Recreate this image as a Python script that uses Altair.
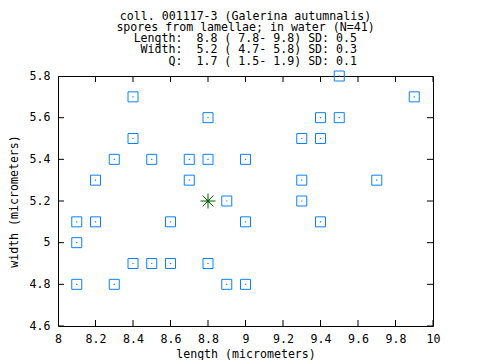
import altair as alt
import pandas as pd

# spore measurements (micrometers)
lengths = [9.5,
           8.4, 9.9,
           8.8, 9.4, 9.5,
           8.4, 9.3, 9.4,
           8.3, 8.5, 8.7, 8.8, 9.0,
           8.2, 8.7, 9.3, 9.7,
           8.9, 9.3,
           8.1, 8.2, 8.6, 9.0, 9.4,
           8.1,
           8.4, 8.5, 8.6, 8.8,
           8.1, 8.3, 8.9, 9.0]
widths = [5.8,
          5.7, 5.7,
          5.6, 5.6, 5.6,
          5.5, 5.5, 5.5,
          5.4, 5.4, 5.4, 5.4, 5.4,
          5.3, 5.3, 5.3, 5.3,
          5.2, 5.2,
          5.1, 5.1, 5.1, 5.1, 5.1,
          5.0,
          4.9, 4.9, 4.9, 4.9,
          4.8, 4.8, 4.8, 4.8]
mean_length = [8.8]
mean_width = [5.2]

x_ticks = [8, 8.2, 8.4, 8.6, 8.8, 9, 9.2, 9.4, 9.6, 9.8, 10]
y_ticks = [4.6, 4.8, 5, 5.2, 5.4, 5.6, 5.8]

title_lines = [
    "coll. 001117-3 (Galerina autumnalis)",
    "spores from lamellae; in water (N=41)",
]
stats_lines = [
    "Length:  8.8 ( 7.8- 9.8) SD: 0.5",
    "Width:  5.2 ( 4.7- 5.8) SD: 0.3",
    "Q:  1.7 ( 1.5- 1.9) SD: 0.1",
]
stats_lines = [t.replace(" ", "\u00a0") for t in stats_lines]

FONT = "DejaVu Sans Mono"
BLUE = "#0a80ff"
GREEN = "#006400"

pts = pd.DataFrame({"length": lengths, "width": widths})
mean = pd.DataFrame({"length": mean_length, "width": mean_width})

# tick rows for the mirrored inward ticks on all four sides
xt = pd.DataFrame({"length": x_ticks * 2,
                   "width": [4.6] * len(x_ticks) + [5.8] * len(x_ticks)})
yt = pd.DataFrame({"width": y_ticks * 2,
                   "length": [8] * len(y_ticks) + [10] * len(y_ticks)})

xscale = alt.Scale(domain=[8, 10], nice=False, zero=False)
yscale = alt.Scale(domain=[4.6, 5.8], nice=False, zero=False)

xaxis = alt.Axis(values=x_ticks, format="~g", ticks=False, grid=False, domain=False,
                 labelPadding=7, title="length (micrometers)", titlePadding=4,
                 labelFont=FONT, labelFontSize=11.6, labelColor="black",
                 titleFont=FONT, titleFontSize=11.6, titleColor="black",
                 titleFontWeight="normal", labelFlush=False)
yaxis = alt.Axis(values=y_ticks, format="~g", ticks=False, grid=False, domain=False,
                 labelPadding=8, title="width (micrometers)", titlePadding=10,
                 labelFont=FONT, labelFontSize=11.6, labelColor="black",
                 titleFont=FONT, titleFontSize=11.6, titleColor="black",
                 titleFontWeight="normal", labelFlush=False)

X = alt.X("length:Q", scale=xscale, axis=xaxis)
Y = alt.Y("width:Q", scale=yscale, axis=yaxis)

xtick_layer = alt.Chart(xt).mark_tick(orient="vertical", size=12, thickness=1,
                                      color="black", clip=True, opacity=1).encode(x=X, y=Y)
ytick_layer = alt.Chart(yt).mark_tick(orient="horizontal", size=12, thickness=1,
                                      color="black", clip=True, opacity=1).encode(x=X, y=Y)

squares = alt.Chart(pts).mark_point(shape="square", size=100, filled=False,
                                    color=BLUE, strokeWidth=1, opacity=1).encode(x=X, y=Y)
dots = alt.Chart(pts).mark_square(size=1.5, color=BLUE, opacity=1).encode(x=X, y=Y)

star_path = "M-1,0L1,0M0,-1L0,1M-0.72,-0.72L0.72,0.72M-0.72,0.72L0.72,-0.72"
star = alt.Chart(mean).mark_point(shape=star_path, size=225, filled=False,
                                  color=GREEN, strokeWidth=1, opacity=1).encode(x=X, y=Y)
star_dot = alt.Chart(mean).mark_circle(size=9, color=GREEN, opacity=1).encode(x=X, y=Y)

# the three statistics lines of the heading, right-aligned as in the original
stats = alt.Chart(mean).mark_text(
    text=stats_lines, font=FONT, fontSize=11.6, color="black", align="right",
    baseline="alphabetic", lineHeight=11.3,
).encode(x=alt.value(299), y=alt.value(-34))

chart = alt.layer(
    xtick_layer, ytick_layer, squares, dots, star, star_dot, stats,
).properties(
    width=375, height=250,
    title=alt.TitleParams(text=title_lines, font=FONT, fontSize=11.6, fontWeight="normal",
                          color="black", lineHeight=11.3, anchor="middle", offset=-1,
                          frame="group"),
    padding={"left": 50, "top": 68, "right": 30, "bottom": 34},
    autosize=alt.AutoSizeParams(type="none"),
    background="white",
).configure_view(
    stroke="black", strokeWidth=1
)

chart.save("out.html", embed_options={"renderer": "svg", "actions": False})
